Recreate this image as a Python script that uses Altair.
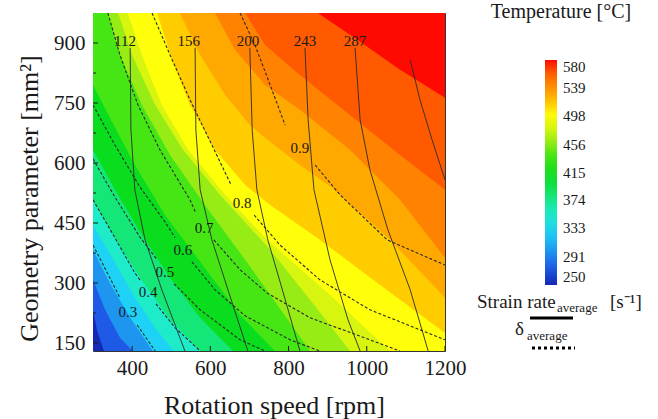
import altair as alt
import pandas as pd

# ---------------- data ----------------
rpm_ticks = [400, 600, 800, 1000, 1200]
geom_ticks = [150, 300, 450, 600, 750, 900]
geom_minor = [225, 375, 525, 675, 825]
temp_ticks = [250, 291, 333, 374, 415, 456, 498, 539, 580]

# temperature bands, lowest first
band_temps = [250, 275, 300, 328, 355, 380, 410, 440, 460, 480, 498, 515, 530, 545, 562, 580]
band_colors = ["#1428b4", "#1e5ae6", "#1e96f0", "#1ed2f5", "#1eebc8", "#14e678",
               "#0adc1e", "#46e614", "#96ec14", "#d7f50f", "#ffff0a", "#ffcc00",
               "#ffa800", "#ff8200", "#ff5a00", "#ff0a00"]

# band boundaries: boundary k separates band k from band k+1 (rpm, geometry parameter)
b_rpm = [
    [300, 310, 328, 1200],
    [300, 331, 369, 402, 1200],
    [300, 343, 395, 453, 1200],
    [300, 349, 407, 459, 505, 1200],
    [300, 356, 420, 497, 574, 1200],
    [300, 356, 420, 497, 574, 658, 1200],
    [300, 343, 407, 484, 574, 676, 765, 1200],
    [338, 369, 425, 497, 586, 689, 855, 1200],
    [364, 400, 459, 530, 625, 753, 855, 957, 1200],
    [389, 425, 476, 543, 638, 740, 906, 1059, 1200],
    [464, 502, 548, 612, 689, 753, 880, 1034, 1200],
    [522, 574, 638, 701, 740, 829, 911, 1059, 1200],
    [612, 663, 740, 829, 957, 1085, 1200],
    [689, 740, 829, 957, 1085, 1200],
    [875, 983, 1085, 1200],
]
b_geom = [
    [233, 183, 130, 130],
    [308, 233, 163, 130, 130],
    [383, 300, 213, 130, 130],
    [445, 363, 263, 188, 130, 130],
    [508, 413, 313, 208, 130, 130],
    [633, 533, 428, 313, 213, 130, 130],
    [795, 713, 595, 470, 353, 220, 130, 130],
    [975, 870, 745, 620, 495, 358, 130, 130],
    [975, 870, 745, 633, 520, 383, 258, 130, 130],
    [975, 870, 745, 633, 520, 413, 270, 130, 130],
    [975, 858, 745, 633, 545, 495, 408, 295, 175],
    [975, 870, 770, 695, 663, 595, 538, 408, 263],
    [975, 883, 795, 733, 633, 508, 363],
    [975, 895, 820, 720, 620, 533],
    [975, 903, 833, 763],
]

# strain rate contours (solid)
s_labels = ["112", "156", "200", "243", "287"]
s_label_rpm = [382, 545, 696, 842, 970]
s_label_geom = [905, 905, 905, 905, 905]
s_rpm = [
    [395, 397, 407, 433, 476, 535],
    [561, 563, 574, 604, 645, 696],
    [701, 707, 719, 747, 788, 829],
    [842, 850, 865, 906, 952, 983],
    [970, 983, 1008, 1054, 1111, 1157],
    [1111, 1136, 1167, 1200],
]
s_geom = [
    [888, 683, 533, 408, 283, 130],
    [888, 683, 533, 408, 283, 130],
    [888, 683, 533, 408, 270, 130],
    [888, 708, 533, 358, 208, 130],
    [888, 708, 583, 433, 283, 130],
    [858, 758, 658, 558],
]

# delta contours (dashed), split around their labels
d_labels = ["0.3", "0.4", "0.5", "0.6", "0.7", "0.8", "0.9"]
d_label_rpm = [389, 441, 484, 530, 584, 681, 829]
d_label_geom = [228, 278, 328, 383, 438, 500, 638]
d_up_rpm = [[300, 343, 369], [300, 349, 407, 420], [300, 356, 420, 464],
            [300, 356, 420, 484, 510], [338, 369, 415, 471, 548, 563],
            [451, 497, 548, 604, 653], [676, 714, 753, 791]]
d_up_geom = [[395, 313, 263], [508, 425, 325, 308], [610, 515, 415, 358],
             [745, 645, 540, 453, 413], [975, 870, 745, 633, 508, 475],
             [975, 870, 758, 645, 545], [975, 895, 795, 695]]
d_lo_rpm = [[413, 459], [461, 510, 574], [507, 574, 676, 740],
            [553, 612, 689, 804, 880], [609, 676, 745, 855, 975, 1085],
            [712, 778, 880, 1008, 1200], [868, 932, 1052, 1200]]
d_lo_geom = [[195, 130], [248, 188, 130], [298, 233, 158, 130],
             [353, 283, 218, 158, 130], [408, 333, 275, 213, 170, 130],
             [470, 395, 308, 233, 158], [595, 520, 408, 345]]

# ---------------- styling / layout ----------------
W, H = 352, 338
FONT = "Liberation Serif"
INK = "#1a1a1a"
LINE = "#2a2a2a"

xs = alt.Scale(domain=[300, 1200], nice=False, zero=False)
ys = alt.Scale(domain=[130, 975], nice=False, zero=False)
cs = alt.Scale(domain=band_temps, range=band_colors, interpolate="rgb")

x_axis = alt.Axis(values=rpm_ticks, format="d", title="Rotation speed [rpm]", ticks=False,
                  domain=False, grid=False, labelFont=FONT, labelFontSize=21, labelColor=INK,
                  labelPadding=6, labelFlush=False, titleFont=FONT, titleFontSize=26,
                  titleFontWeight="normal", titleColor=INK, titleBaseline="alphabetic",
                  titleX=181, titleY=62)
y_axis = alt.Axis(values=geom_ticks, format="d", title="Geometry parameter [mm²]",
                  ticks=False, domain=False, grid=False, labelFont=FONT, labelFontSize=21,
                  labelColor=INK, labelPadding=8, labelFlush=False, titleFont=FONT,
                  titleFontSize=26, titleFontWeight="normal", titleColor=INK,
                  titleAngle=270, titleBaseline="alphabetic", titleAlign="center",
                  titleX=-56, titleY=185)
leg = alt.Legend(title=None, orient="none", legendX=452, legendY=47, direction="vertical",
                 gradientLength=225, gradientThickness=12, values=temp_ticks, format="d",
                 labelFont=FONT, labelFontSize=15, labelColor=INK, labelOffset=6,
                 labelOverlap=False, padding=0, gradientStrokeWidth=0)

X = alt.X("rpm:Q", scale=xs, axis=x_axis)
Y = alt.Y("geom:Q", scale=ys, axis=y_axis)
YA = alt.Y("geom:Q", scale=ys, axis=y_axis, stack=False)
C = alt.Color("temp:Q", scale=cs, legend=leg)

layers = []
layers.append(
    alt.Chart(pd.DataFrame({"temp": [band_temps[0]]})).mark_rect().encode(
        x=alt.value(0), x2=alt.value(W), y=alt.value(0), y2=alt.value(H), color=C)
)
for k, (xr, yr) in enumerate(zip(b_rpm, b_geom)):
    df = pd.DataFrame({"rpm": xr, "geom": yr, "temp": [band_temps[k + 1]] * len(xr)})
    layers.append(alt.Chart(df).mark_area(clip=True, interpolate="linear").encode(
        x=X, y=YA, y2=alt.value(0), color=C))

rows = []
for k, (xr, yr) in enumerate(zip(s_rpm, s_geom)):
    for i, (a, b) in enumerate(zip(xr, yr)):
        rows.append({"id": f"s{k}", "i": i, "rpm": a, "geom": b})
solid = pd.DataFrame(rows)
layers.append(alt.Chart(solid).mark_line(clip=True, color=LINE, strokeWidth=0.9).encode(
    x=X, y=Y, detail="id:N", order="i:Q"))

rows = []
for k in range(len(d_labels)):
    for part, xr, yr in (("u", d_up_rpm[k], d_up_geom[k]), ("l", d_lo_rpm[k], d_lo_geom[k])):
        for i, (a, b) in enumerate(zip(xr, yr)):
            rows.append({"id": f"d{k}{part}", "i": i, "rpm": a, "geom": b})
dashed = pd.DataFrame(rows)
layers.append(alt.Chart(dashed).mark_line(clip=True, color=LINE, strokeWidth=1.1,
                                          strokeDash=[3, 2]).encode(
    x=X, y=Y, detail="id:N", order="i:Q"))

labs = pd.DataFrame({"rpm": s_label_rpm + d_label_rpm,
                     "geom": s_label_geom + d_label_geom,
                     "lab": s_labels + d_labels})
layers.append(alt.Chart(labs).mark_text(font=FONT, fontSize=15, color=INK).encode(
    x=X, y=Y, text="lab:N"))

# inward tick marks
layers.append(alt.Chart(pd.DataFrame({"rpm": rpm_ticks})).mark_rule(color=INK).encode(
    x=X, y=alt.value(H), y2=alt.value(H - 5)))
layers.append(alt.Chart(pd.DataFrame({"geom": geom_ticks})).mark_rule(color=INK).encode(
    y=Y, x=alt.value(0), x2=alt.value(5)))
layers.append(alt.Chart(pd.DataFrame({"geom": geom_minor})).mark_rule(color=INK).encode(
    y=Y, x=alt.value(0), x2=alt.value(3)))


def note(text, x, y, size, align="left"):
    return alt.Chart(pd.DataFrame({"t": [text]})).mark_text(
        font=FONT, fontSize=size, align=align, baseline="alphabetic", color=INK
    ).encode(x=alt.value(x), y=alt.value(y), text="t:N")


layers.append(note("Temperature [°C]", 468, 5, 20, "center"))
layers.append(note("Strain rate", 384, 295, 19))
layers.append(note("average", 464, 299, 13))
layers.append(note("[s⁻¹]", 517, 295, 19))
layers.append(note("δ", 422, 322, 19))
layers.append(note("average", 434, 327, 13))
layers.append(alt.Chart(pd.DataFrame({"k": [0]})).mark_rule(color="#000000", strokeWidth=3).encode(
    x=alt.value(437), x2=alt.value(480), y=alt.value(305)))
layers.append(alt.Chart(pd.DataFrame({"k": [0]})).mark_rule(
    color="#000000", strokeWidth=3, strokeDash=[3, 3]).encode(
    x=alt.value(439), x2=alt.value(482), y=alt.value(335)))

chart = alt.layer(*layers).properties(
    width=W, height=H,
    autosize=alt.AutoSizeParams(type="none"),
    padding={"left": 93, "top": 13, "right": 213, "bottom": 68},
).configure_view(stroke="#333333", strokeWidth=1)

chart.save("out.html", embed_options={"renderer": "svg", "actions": False})
